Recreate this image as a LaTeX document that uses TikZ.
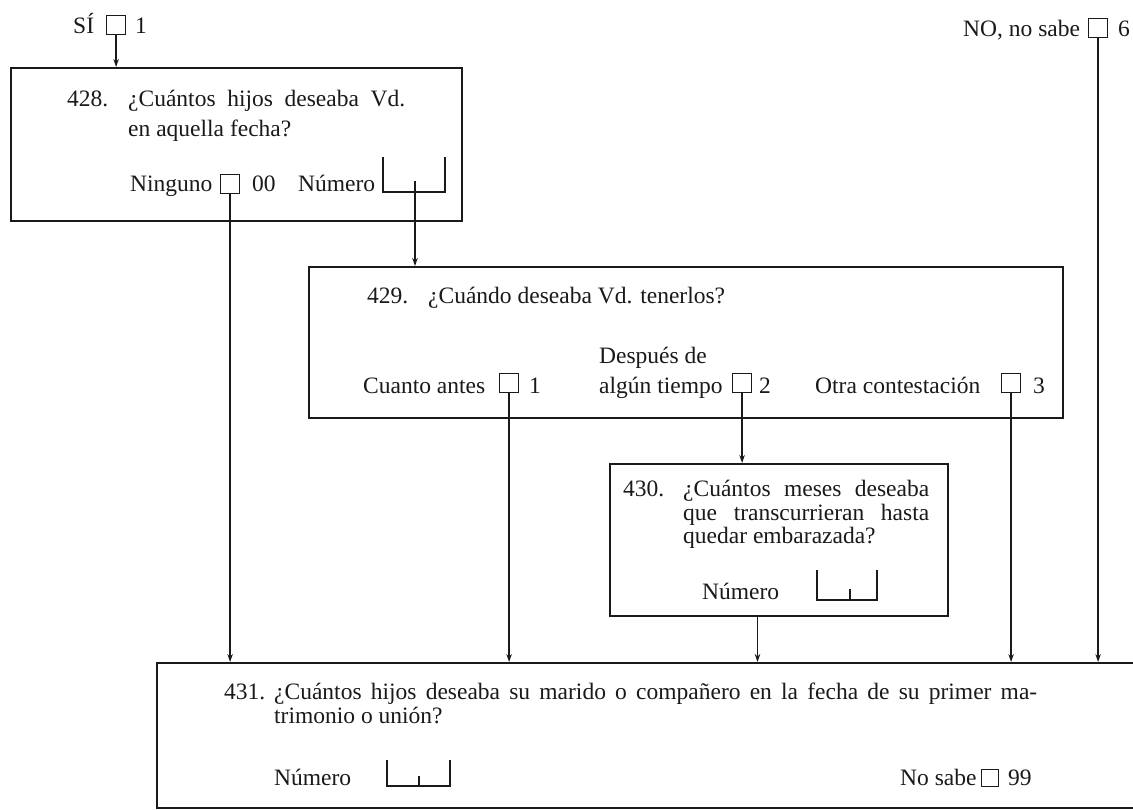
\documentclass[tikz,border=0pt]{standalone}
\usepackage{fontspec}
\setmainfont{Liberation Serif}
\usetikzlibrary{arrows.meta}
\definecolor{ink}{HTML}{1A1A1A}
\newcommand\jline[2]{\makebox[#1][s]{#2}}
\begin{document}
\begin{tikzpicture}[x=1pt,y=-1pt,
  txt/.style={anchor=base west, inner sep=0pt, text=ink, font=\fontsize{23.5}{28}\selectfont},
  qbox/.style={draw=ink, line width=2.2pt, inner sep=0pt, anchor=north west},
  cbox/.style={draw=ink, line width=1.2pt, minimum size=19pt, inner sep=0pt, anchor=north west},
  arr/.style={draw=ink, line width=1.3pt, -{Stealth[length=8pt,width=5.5pt]}},
  conn/.style={draw=ink, line width=1.3pt},
]
\useasboundingbox (0,0) rectangle (1133,810);
\fill[white] (0,0) rectangle (1133,810);

% question boxes
\node[qbox, minimum width=451pt, minimum height=153pt] (b428) at (10,67) {};
\node[qbox, minimum width=754pt, minimum height=151pt] (b429) at (308,266) {};
\node[qbox, minimum width=338pt, minimum height=152pt] (b430) at (609,463) {};
\node[qbox, line width=1.8pt, minimum width=990pt, minimum height=145pt] (b431) at (156,662) {};

% check boxes
\node[cbox] (si) at (106,15) {};
\node[cbox] (no) at (1088,18) {};
\node[cbox] (ning) at (220,174) {};
\node[cbox] (c1) at (499,373) {};
\node[cbox] (c2) at (732,373) {};
\node[cbox] (c3) at (1001,373) {};
\node[cbox, minimum size=17pt] (c99) at (981,769) {};

% number brackets
\draw[conn] (383,157) -- (383,192) -- (445,192) -- (445,157);
\draw[conn] (415,192) -- (415,181);
\coordinate (t428) at (415,192);
\draw[conn] (817,570) -- (817,600) -- (877,600) -- (877,570);
\draw[conn] (850,600) -- (850,589);
\draw[conn] (387,760) -- (387,786) -- (450,786) -- (450,760);
\draw[conn] (419,786) -- (419,776);
\coordinate (o430) at (757.5,615);

% connectors
\draw[arr] (si.south) -- (si.south |- b428.north);
\draw[arr] (ning.south) -- (ning.south |- b431.north);
\draw[arr] (t428) -- (t428 |- b429.north);
\draw[arr] (c1.south) -- (c1.south |- b431.north);
\draw[arr] (c2.south) -- (c2.south |- b430.north);
\draw[arr] (c3.south) -- (c3.south |- b431.north);
\draw[arr] (no.south) -- (no.south |- b431.north);
\draw[arr] (o430) -- (o430 |- b431.north);

% top labels
\node[txt] (lsi) at (73,34) {SÍ};
\node[txt] (lsi1) at (135,34) {1};
\node[txt] (lno) at (963,37) {NO, no sabe};
\node[txt] (lno6) at (1118,37) {6};

% 428
\node[txt] (n428) at (67,107) {428.};
\node[txt] (q428a) at (128,107) {\jline{277pt}{¿Cuántos hijos deseaba Vd.}};
\node[txt] (q428b) at (128,137) {en aquella fecha?};
\node[txt] (lning) at (130,192) {Ninguno};
\node[txt] (l00) at (252,192) {00};
\node[txt] (lnum1) at (298,192) {Número};

% 429
\node[txt] (n429) at (367,304) {429.};
\node[txt] (q429) at (428,304) {¿Cuándo deseaba Vd. tenerlos?};
\node[txt] (lca) at (363,393) {Cuanto antes};
\node[txt] (lc1) at (529,393) {1};
\node[txt] (ldes) at (599,363) {Después de};
\node[txt] (lalg) at (599,393) {algún tiempo};
\node[txt] (lc2) at (759,393) {2};
\node[txt] (lotra) at (815,393) {Otra contestación};
\node[txt] (lc3) at (1033,393) {3};

% 430
\node[txt] (n430) at (623,496) {430.};
\node[txt] (q430a) at (683,496) {\jline{246pt}{¿Cuántos meses deseaba}};
\node[txt] (q430b) at (683,520) {\jline{246pt}{que transcurrieran hasta}};
\node[txt] (q430c) at (683,543) {quedar embarazada?};
\node[txt] (lnum2) at (702,599) {Número};

% 431
\node[txt] (n431) at (224,699) {431.};
\node[txt] (q431a) at (274,699) {\jline{763pt}{¿Cuántos hijos deseaba su marido o compañero en la fecha de su primer ma-}};
\node[txt] (q431b) at (274,723) {trimonio o unión?};
\node[txt] (lnum3) at (274,785) {Número};
\node[txt] (lnosabe) at (900,785) {No sabe};
\node[txt] (l99) at (1008,785) {99};
\end{tikzpicture}
\end{document}
